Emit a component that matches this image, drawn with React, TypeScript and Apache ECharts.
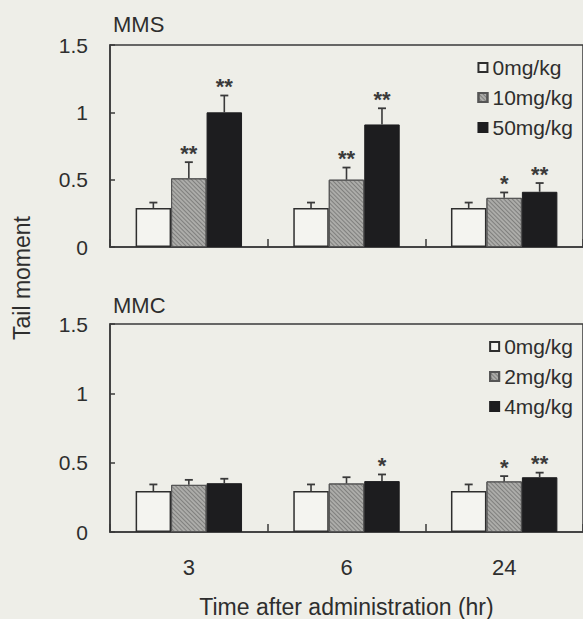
import React, { useEffect, useRef } from 'react';
import * as echarts from 'echarts';

const timePoints = ['3', '6', '24'];
const mmsDoses = ['0mg/kg', '10mg/kg', '50mg/kg'];
const mmcDoses = ['0mg/kg', '2mg/kg', '4mg/kg'];

// rows: dose groups, columns: time points (3, 6, 24 hr)
const mmsMean = [
  [0.29, 0.29, 0.29],
  [0.51, 0.5, 0.365],
  [1.0, 0.91, 0.41],
];
const mmsErr = [
  [0.04, 0.04, 0.04],
  [0.12, 0.09, 0.04],
  [0.125, 0.12, 0.065],
];
const mmsSig = [
  ['', '', ''],
  ['**', '**', '*'],
  ['**', '**', '**'],
];
const mmcMean = [
  [0.295, 0.295, 0.295],
  [0.34, 0.35, 0.365],
  [0.352, 0.367, 0.395],
];
const mmcErr = [
  [0.048, 0.048, 0.048],
  [0.036, 0.045, 0.038],
  [0.032, 0.048, 0.033],
];
const mmcSig = [
  ['', '', ''],
  ['', '', '*'],
  ['', '*', '**'],
];
const yMin = 0;
const yMax = 1.5;
const yInterval = 0.5;

const FONT = 'Liberation Sans, Arial, sans-serif';
const TEXT = '#2e2e2e';
const LINE = '#3a3a3a';
const BAR_RATIO = 0.225;

const barStyles = [
  { color: '#f4f4f0', borderColor: '#2e2e2e', borderWidth: 1.5 },
  {
    color: '#acaca9',
    borderColor: '#555',
    borderWidth: 1,
    decal: {
      symbol: 'rect',
      symbolSize: 1,
      color: 'rgba(60,60,60,0.4)',
      dashArrayX: [1, 0],
      dashArrayY: [1, 2],
      rotation: Math.PI / 4,
    },
  },
  { color: '#1d1d1f', borderColor: '#1d1d1f', borderWidth: 1 },
];

function buildPanel(idx: number, doses: string[], mean: number[][], err: number[][], sig: string[][]) {
  const series: any[] = doses.map((d, k) => ({
    name: d,
    type: 'bar',
    xAxisIndex: idx,
    yAxisIndex: idx,
    barWidth: BAR_RATIO * 100 + '%',
    barGap: '0%',
    itemStyle: barStyles[k],
    data: mean[k],
    silent: true,
  }));
  const ebData: number[][] = [];
  const ebSig: string[] = [];
  doses.forEach((_, k) => {
    timePoints.forEach((__, c) => {
      ebData.push([c, mean[k][c], err[k][c], k]);
      ebSig.push(sig[k][c]);
    });
  });
  series.push({
    type: 'custom',
    xAxisIndex: idx,
    yAxisIndex: idx,
    coordinateSystem: 'cartesian2d',
    silent: true,
    z: 10,
    encode: { x: 0, y: 1 },
    data: ebData,
    renderItem: (params: any, api: any) => {
      const c = api.value(0);
      const v = api.value(1);
      const e = api.value(2);
      const k = api.value(3);
      const band = api.size([1, 0])[0];
      const off = (k - 1) * band * BAR_RATIO;
      const base = api.coord([c, v]);
      const top = api.coord([c, v + e]);
      const x = base[0] + off;
      const children: any[] = [
        { type: 'line', shape: { x1: x, y1: base[1], x2: x, y2: top[1] }, style: { stroke: LINE, lineWidth: 1.6 } },
        { type: 'line', shape: { x1: x - 4, y1: top[1], x2: x + 4, y2: top[1] }, style: { stroke: LINE, lineWidth: 1.8 } },
      ];
      const s = ebSig[params.dataIndex];
      if (s) {
        children.push({
          type: 'text',
          x,
          y: top[1] - 9,
          style: { text: s, fontSize: 22, fontWeight: 'bold', fontFamily: FONT, fill: '#3a3a3a', align: 'center', verticalAlign: 'middle' },
        });
      }
      return { type: 'group', children };
    },
  });
  return series;
}

export default function App() {
  const ref = useRef<HTMLDivElement>(null);
  useEffect(() => {
    const chart = echarts.init(ref.current!, undefined, { renderer: 'svg' });
    const yAxisBase = (gi: number) => ({
      type: 'value',
      gridIndex: gi,
      min: yMin,
      max: yMax,
      interval: yInterval,
      axisLine: { show: true, lineStyle: { color: LINE, width: 1.5 } },
      axisTick: { show: true, inside: true, length: 5, lineStyle: { color: LINE, width: 1.5 } },
      axisLabel: { fontSize: 21, color: TEXT, fontFamily: FONT, margin: 22 },
      splitLine: { show: false },
    });
    const xAxisBase = (gi: number, showLabel: boolean) => ({
      type: 'category',
      gridIndex: gi,
      data: timePoints,
      boundaryGap: true,
      axisLine: { show: true, lineStyle: { color: LINE, width: 1.5 } },
      axisTick: { show: true, inside: true, length: 8, interval: 0, lineStyle: { color: LINE, width: 1.5 } },
      axisLabel: { show: showLabel, fontSize: 22, color: TEXT, fontFamily: FONT, margin: 24 },
      splitLine: { show: false },
    });
    const legendBase = (data: string[], top: number) => ({
      data,
      orient: 'vertical',
      right: 10,
      top,
      icon: 'rect',
      itemWidth: 9,
      itemHeight: 9,
      itemGap: 9,
      padding: 0,
      selectedMode: false,
      textStyle: { fontSize: 21, color: TEXT, fontFamily: FONT, lineHeight: 21 },
    });
    chart.setOption({
      animation: false,
      backgroundColor: '#eeeee8',
      textStyle: { fontFamily: FONT },
      title: [
        { text: 'MMS', left: 113, top: 13, padding: 0, textStyle: { fontSize: 22, fontWeight: 'normal', color: TEXT, fontFamily: FONT } },
        { text: 'MMC', left: 113, top: 294, padding: 0, textStyle: { fontSize: 22, fontWeight: 'normal', color: TEXT, fontFamily: FONT } },
      ],
      legend: [legendBase(mmsDoses, 57), legendBase(mmcDoses, 336)],
      grid: [
        { left: 110, right: -1, top: 45, height: 202, show: true, borderColor: LINE, borderWidth: 1.5, backgroundColor: 'transparent' },
        { left: 110, right: -1, top: 324, height: 208, show: true, borderColor: LINE, borderWidth: 1.5, backgroundColor: 'transparent' },
      ],
      xAxis: [
        xAxisBase(0, false),
        {
          ...xAxisBase(1, true),
          name: 'Time after administration (hr)',
          nameLocation: 'middle',
          nameGap: 63,
          nameTextStyle: { fontSize: 23, color: TEXT, fontFamily: FONT },
        },
      ],
      yAxis: [yAxisBase(0), yAxisBase(1)],
      graphic: [
        {
          type: 'text',
          x: 22,
          y: 278,
          rotation: Math.PI / 2,
          style: { text: 'Tail moment', fontSize: 23, fill: TEXT, fontFamily: FONT, align: 'center', verticalAlign: 'middle' },
        },
      ],
      series: [
        ...buildPanel(0, mmsDoses, mmsMean, mmsErr, mmsSig),
        ...buildPanel(1, mmcDoses, mmcMean, mmcErr, mmcSig),
      ],
    });
    return () => chart.dispose();
  }, []);
  return <div ref={ref} style={{ position: 'absolute', left: 0, top: 0, width: 583, height: 619 }} />;
}
